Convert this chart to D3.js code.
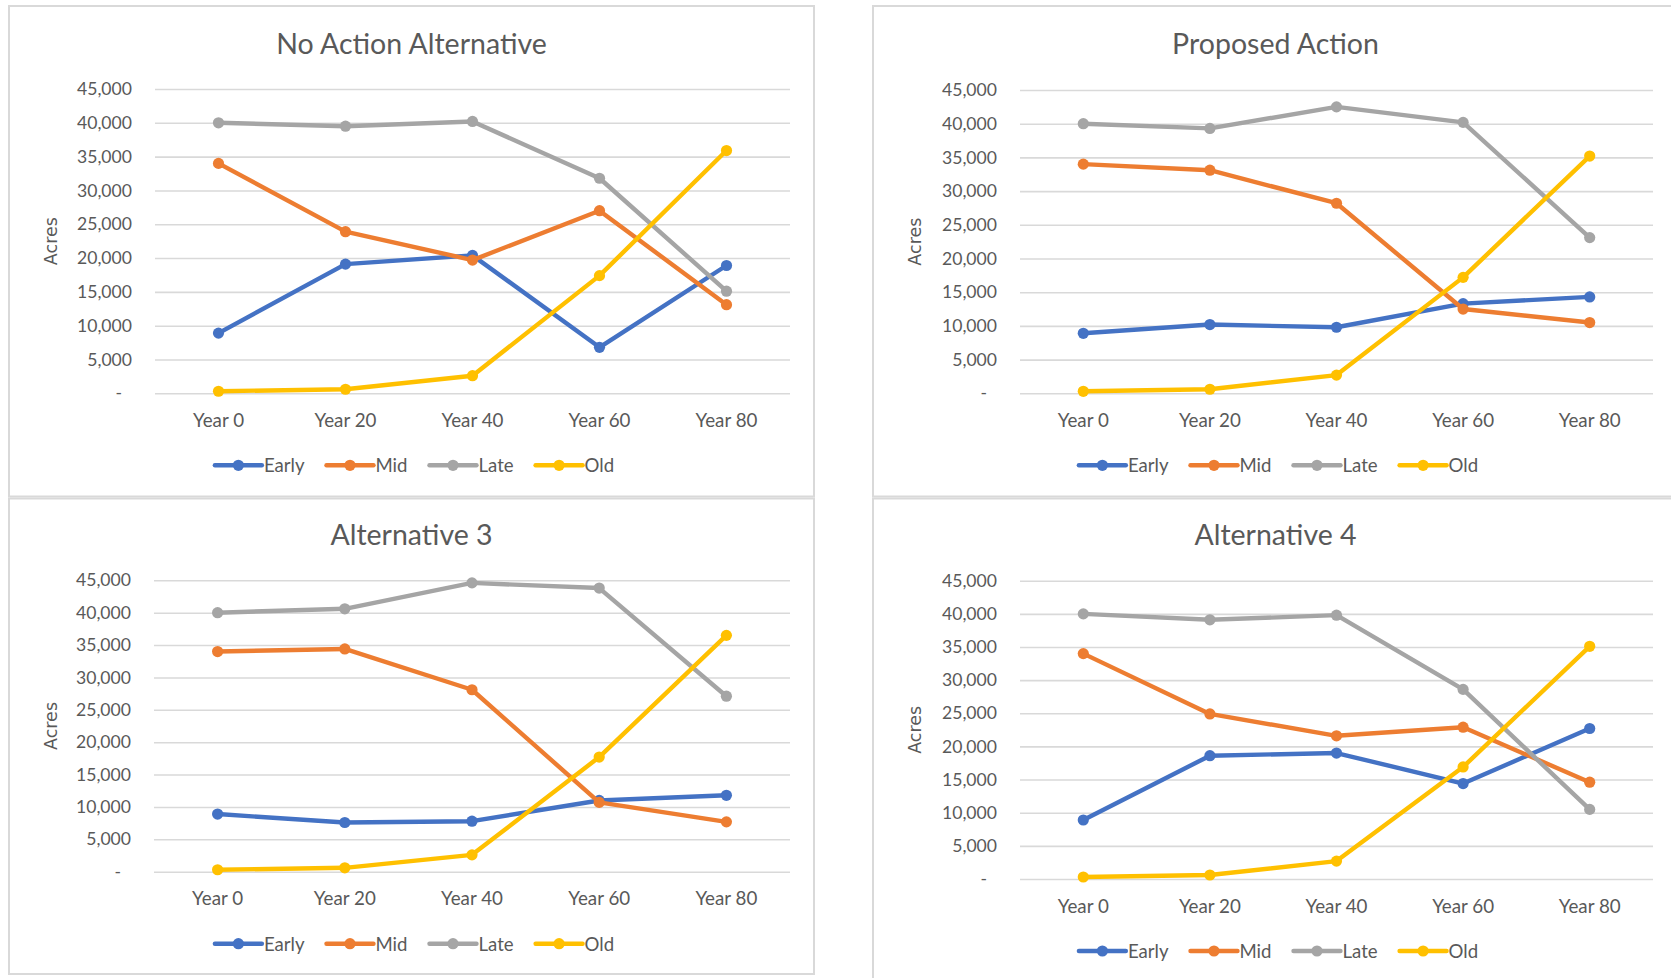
<!DOCTYPE html>
<html>
<head>
<meta charset="utf-8">
<script src="https://cdn.jsdelivr.net/npm/d3@7"></script>
<style>
  html, body { margin: 0; padding: 0; background: #ffffff; overflow: hidden; }
  svg { display: block; }
  text { font-family: Lato, "Open Sans", sans-serif; fill: #595959; }
</style>
</head>
<body>
<svg id="chart" width="1671" height="978"></svg>
<script>
// ---- data ----
const periods = ["Year 0", "Year 20", "Year 40", "Year 60", "Year 80"];
const stages = ["Early", "Mid", "Late", "Old"];
const acreTicks = [0, 5000, 10000, 15000, 20000, 25000, 30000, 35000, 40000, 45000];
const panelTitles = ["No Action Alternative", "Proposed Action", "Alternative 3", "Alternative 4"];

// No Action Alternative (acres)
const noActionEarly = [8900, 19100, 20400, 6800, 18900];
const noActionMid   = [34000, 23900, 19700, 27000, 13100];
const noActionLate  = [40000, 39500, 40200, 31800, 15100];
const noActionOld   = [300, 600, 2600, 17400, 35900];

// Proposed Action (acres)
const proposedEarly = [8900, 10200, 9800, 13300, 14300];
const proposedMid   = [34000, 33100, 28200, 12500, 10500];
const proposedLate  = [40000, 39300, 42500, 40200, 23100];
const proposedOld   = [300, 600, 2700, 17200, 35200];

// Alternative 3 (acres)
const alt3Early = [8900, 7600, 7800, 11000, 11800];
const alt3Mid   = [34000, 34400, 28100, 10700, 7700];
const alt3Late  = [40000, 40600, 44600, 43800, 27100];
const alt3Old   = [300, 600, 2600, 17700, 36500];

// Alternative 4 (acres)
const alt4Early = [8900, 18600, 19000, 14400, 22700];
const alt4Mid   = [34000, 24900, 21600, 22900, 14600];
const alt4Late  = [40000, 39100, 39800, 28600, 10500];
const alt4Old   = [300, 600, 2700, 16900, 35100];

// ---- styling & layout ----
const stageColors = { Early: "#4472C4", Mid: "#ED7D31", Late: "#A5A5A5", Old: "#FFC000" };

const panels = [
  { title: panelTitles[0], series: [noActionEarly, noActionMid, noActionLate, noActionOld],
    box: { x: 9, y: 6, w: 805, h: 490.5 }, titleY: 43, plot: { l: 155, r: 790, t: 89, b: 393.3 } },
  { title: panelTitles[1], series: [proposedEarly, proposedMid, proposedLate, proposedOld],
    box: { x: 873, y: 6, w: 805, h: 490.5 }, titleY: 43, plot: { l: 1020, r: 1653, t: 90, b: 393.3 } },
  { title: panelTitles[2], series: [alt3Early, alt3Mid, alt3Late, alt3Old],
    box: { x: 9, y: 498.5, w: 805, h: 475.5 }, titleY: 534, plot: { l: 154, r: 790, t: 580.3, b: 871.7 } },
  { title: panelTitles[3], series: [alt4Early, alt4Mid, alt4Late, alt4Old],
    box: { x: 873, y: 498.5, w: 805, h: 500 }, titleY: 534, plot: { l: 1020, r: 1653, t: 580.7, b: 879 } }
];

const svg = d3.select("#chart");
const fmt = d3.format(",");
const LINE_W = 4.4, DOT_R = 5.6;

panels.forEach(p => {
  const g = svg.append("g");
  const cx = p.box.x + p.box.w / 2;

  // chart frame
  g.append("rect")
    .attr("x", p.box.x).attr("y", p.box.y)
    .attr("width", p.box.w).attr("height", p.box.h)
    .attr("fill", "#ffffff").attr("stroke", "#d9d9d9").attr("stroke-width", 2);

  // title
  g.append("text")
    .attr("x", cx).attr("y", p.titleY)
    .attr("text-anchor", "middle").attr("dominant-baseline", "central")
    .style("font-size", "28.5px")
    .text(p.title);

  const x = d3.scaleBand().domain(periods).range([p.plot.l, p.plot.r]);
  const y = d3.scaleLinear().domain([0, 45000]).range([p.plot.b, p.plot.t]);

  // horizontal gridlines + value labels
  const yAxis = d3.axisLeft(y)
    .tickValues(acreTicks)
    .tickSize(-(p.plot.r - p.plot.l))
    .tickPadding(23)
    .tickFormat(v => v === 0 ? "-" : fmt(v));
  const ya = g.append("g").attr("transform", `translate(${p.plot.l},0)`).call(yAxis);
  ya.select(".domain").remove();
  ya.selectAll(".tick line").attr("stroke", "#d9d9d9").attr("stroke-width", 1.6);
  ya.selectAll(".tick text")
    .attr("fill", "#595959")
    .style("font-family", "Lato, sans-serif")
    .style("font-size", "17.6px")
    .attr("dx", v => v === 0 ? -10 : 0);

  // category labels
  const xAxis = d3.axisBottom(x).tickSize(0).tickPadding(0);
  const xa = g.append("g").attr("transform", `translate(0,${p.plot.b + 27})`).call(xAxis);
  xa.select(".domain").remove();
  xa.selectAll(".tick text")
    .attr("fill", "#595959")
    .attr("dy", "0.35em").attr("y", 0)
    .style("font-family", "Lato, sans-serif")
    .style("font-size", "18.8px");

  // axis title
  const my = (p.plot.t + p.plot.b) / 2;
  g.append("text")
    .attr("transform", `translate(${p.box.x + 42},${my}) rotate(-90)`)
    .attr("text-anchor", "middle").attr("dominant-baseline", "central")
    .style("font-family", "'DejaVu Sans', sans-serif")
    .style("font-size", "17.5px")
    .text("Acres");

  // series lines with markers
  const line = d3.line()
    .x((d, i) => x(periods[i]) + x.bandwidth() / 2)
    .y(d => y(d));

  p.series.forEach((vals, si) => {
    const col = stageColors[stages[si]];
    g.append("path")
      .datum(vals)
      .attr("d", line)
      .attr("fill", "none").attr("stroke", col)
      .attr("stroke-width", LINE_W)
      .attr("stroke-linejoin", "round").attr("stroke-linecap", "round");
    g.selectAll(null)
      .data(vals).enter().append("circle")
      .attr("cx", (d, i) => x(periods[i]) + x.bandwidth() / 2)
      .attr("cy", d => y(d))
      .attr("r", DOT_R)
      .attr("fill", col);
  });

  // legend
  const lg = g.append("g");
  let off = 0;
  stages.forEach(s => {
    const it = lg.append("g").attr("transform", `translate(${off},0)`);
    it.append("line").attr("x1", 0).attr("x2", 47).attr("y1", 0).attr("y2", 0)
      .attr("stroke", stageColors[s]).attr("stroke-width", LINE_W).attr("stroke-linecap", "round");
    it.append("circle").attr("cx", 23.5).attr("cy", 0).attr("r", DOT_R).attr("fill", stageColors[s]);
    const t = it.append("text").attr("x", 49).attr("y", 0)
      .attr("dominant-baseline", "central")
      .style("font-size", "18.6px").text(s);
    off += 49 + t.node().getComputedTextLength() + 22;
  });
  const total = off - 22;
  lg.attr("transform", `translate(${cx + 3 - total / 2},${p.plot.b + 72})`);
});
</script>
</body>
</html>
